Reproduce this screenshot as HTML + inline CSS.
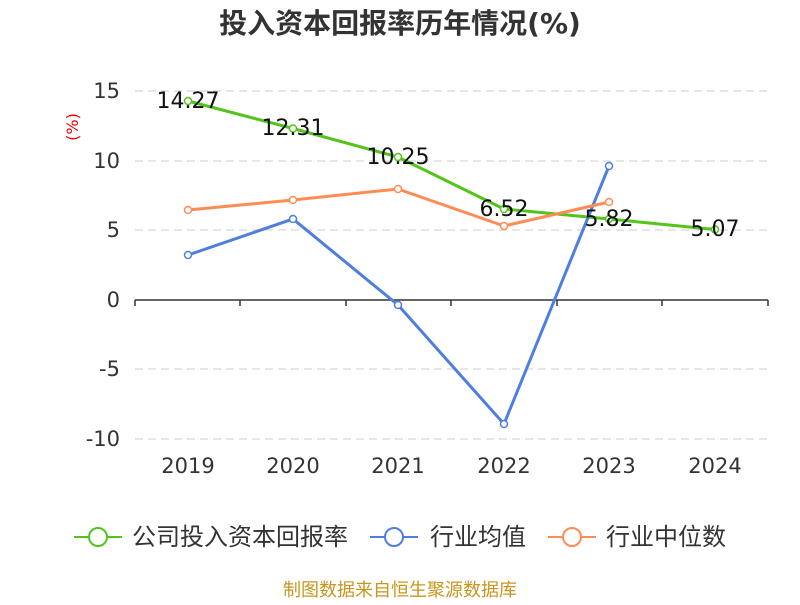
<!DOCTYPE html>
<html><head><meta charset="utf-8"><style>body{margin:0;background:#fff}</style></head><body>
<svg width="800" height="600" xmlns="http://www.w3.org/2000/svg" font-family="DejaVu Sans, Noto Sans CJK SC, sans-serif">
<text x="400" y="33" text-anchor="middle" font-size="28" font-weight="bold" fill="#333">投入资本回报率历年情况(%)</text>
<text x="78" y="127" text-anchor="middle" font-size="16" fill="#e00" transform="rotate(-90 78 127)">(%)</text>
<g stroke="#ccc" stroke-dasharray="8,5" stroke-width="1">
<line x1="135" x2="768" y1="91" y2="91"/><line x1="135" x2="768" y1="161" y2="161"/><line x1="135" x2="768" y1="230" y2="230"/>
<line x1="135" x2="768" y1="369" y2="369"/><line x1="135" x2="768" y1="439" y2="439"/>
</g>
<g stroke="#333" stroke-width="1.5"><line x1="135" x2="768" y1="300" y2="300"/>
<line x1="135" x2="135" y1="300" y2="306"/><line x1="240" x2="240" y1="300" y2="306"/><line x1="346" x2="346" y1="300" y2="306"/><line x1="451" x2="451" y1="300" y2="306"/><line x1="557" x2="557" y1="300" y2="306"/><line x1="662" x2="662" y1="300" y2="306"/><line x1="768" x2="768" y1="300" y2="306"/></g>
<g font-size="21" fill="#333" text-anchor="end"><text x="120" y="98">15</text><text x="120" y="168">10</text><text x="120" y="237">5</text><text x="120" y="307">0</text><text x="120" y="376">-5</text><text x="120" y="446">-10</text></g>
<g font-size="21" fill="#333" text-anchor="middle"><text x="188" y="473">2019</text><text x="293" y="473">2020</text><text x="398" y="473">2021</text><text x="504" y="473">2022</text><text x="609" y="473">2023</text><text x="715" y="473">2024</text></g>
<g fill="none" stroke-width="3">
<polyline stroke="#52c41a" points="188,101 293,128.5 398,157 504,209 609,219 715,229.5"/>
<polyline stroke="#4e7fe0" points="188,255 293,219 398,305 504,424 609,166"/>
<polyline stroke="#ff8c55" points="188,210 293,200 398,189 504,226 609,202"/>
</g>
<g fill="#fff" stroke-width="1.5">
<g stroke="#52c41a"><circle cx="188" cy="101" r="3.5"/><circle cx="293" cy="128.5" r="3.5"/><circle cx="398" cy="157" r="3.5"/><circle cx="504" cy="209" r="3.5"/><circle cx="609" cy="219" r="3.5"/><circle cx="715" cy="229.5" r="3.5"/></g>
<g stroke="#4e7fe0"><circle cx="188" cy="255" r="3.5"/><circle cx="293" cy="219" r="3.5"/><circle cx="398" cy="305" r="3.5"/><circle cx="504" cy="424" r="3.5"/><circle cx="609" cy="166" r="3.5"/></g>
<g stroke="#ff8c55"><circle cx="188" cy="210" r="3.5"/><circle cx="293" cy="200" r="3.5"/><circle cx="398" cy="189" r="3.5"/><circle cx="504" cy="226" r="3.5"/><circle cx="609" cy="202" r="3.5"/></g>
</g>
<g font-size="22" fill="#111" text-anchor="middle"><text x="188" y="108">14.27</text><text x="293" y="135">12.31</text><text x="398" y="164">10.25</text><text x="504" y="216">6.52</text><text x="609" y="226">5.82</text><text x="715" y="236">5.07</text></g>
<g stroke-width="2" fill="#fff">
<line x1="74" x2="122" y1="537" y2="537" stroke="#52c41a"/><circle cx="98" cy="537" r="9" stroke="#52c41a"/>
<line x1="370" x2="418" y1="537" y2="537" stroke="#4e7fe0"/><circle cx="394" cy="537" r="9" stroke="#4e7fe0"/>
<line x1="548" x2="596" y1="537" y2="537" stroke="#ff8c55"/><circle cx="572" cy="537" r="9" stroke="#ff8c55"/>
</g>
<g font-size="24" fill="#333"><text x="132" y="545">公司投入资本回报率</text><text x="430" y="545">行业均值</text><text x="606" y="545">行业中位数</text></g>
<text x="400" y="596" text-anchor="middle" font-size="18" fill="#c8961e">制图数据来自恒生聚源数据库</text>
</svg>
</body></html>
